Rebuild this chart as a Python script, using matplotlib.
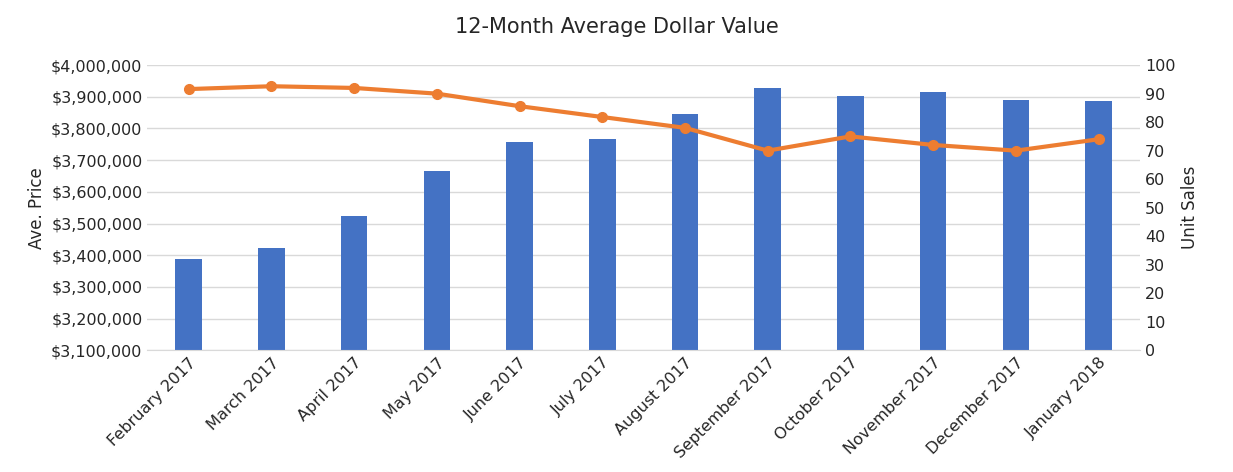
import matplotlib
matplotlib.use("Agg")
import matplotlib.pyplot as plt
from matplotlib.ticker import FuncFormatter

months = ["February 2017","March 2017","April 2017","May 2017","June 2017","July 2017",
          "August 2017","September 2017","October 2017","November 2017","December 2017","January 2018"]
avg_price = [3387000,3422000,3523000,3665000,3757000,3766000,3845000,3927000,3902000,3915000,3889000,3886000]
unit_sales = [91.6,92.6,92,90,85.6,81.8,78,70,75,72,70,74]

plt.rcParams["font.family"] = "DejaVu Sans"
fig = plt.figure(figsize=(12.33,4.72), dpi=100)
ax = fig.add_axes([0.1195,0.258,0.805,0.604])
x = range(len(months))
ax.bar(x, avg_price, width=0.32, color="#4472C4", zorder=2)
ax.set_ylim(3100000,4000000)
ax.set_yticks(range(3100000,4000001,100000))
ax.yaxis.set_major_formatter(FuncFormatter(lambda v,p: f"${v:,.0f}"))
ax.grid(axis="y", color="#d9d9d9", lw=1, zorder=0)
for s in ax.spines.values(): s.set_visible(False)
ax.spines["bottom"].set_visible(True); ax.spines["bottom"].set_color("#d9d9d9")
ax.tick_params(length=0, labelsize=11.5, colors="#262626")
ax.set_xticks(list(x)); ax.set_xticklabels(months, rotation=45, ha="right", rotation_mode="anchor")
ax.set_xlim(-0.5, len(months)-0.5)
ax.set_ylabel("Ave. Price", fontsize=12, color="#262626")
ax2 = ax.twinx()
ax2.plot(list(x), unit_sales, color="#ED7D31", lw=3, marker="o", ms=7, zorder=3)
ax2.set_ylim(0,100); ax2.set_yticks(range(0,101,10))
for s in ax2.spines.values(): s.set_visible(False)
ax2.tick_params(length=0, labelsize=11.5, colors="#262626")
ax2.set_ylabel("Unit Sales", fontsize=12, color="#262626")
fig.suptitle("12-Month Average Dollar Value", y=0.965, fontsize=15, color="#262626")
fig.savefig("out.png", dpi=100)
